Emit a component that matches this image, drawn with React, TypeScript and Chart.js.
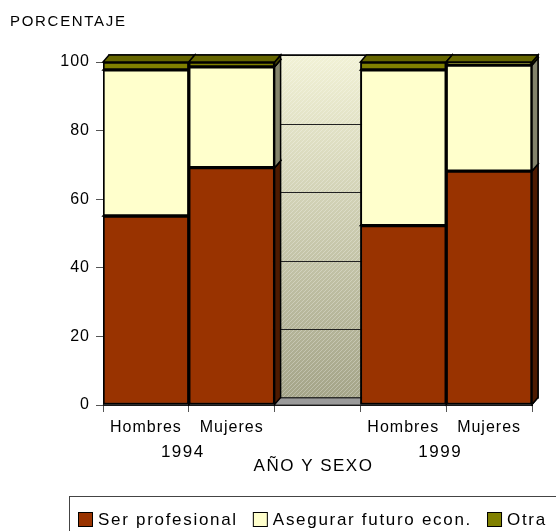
import React, { useEffect, useRef } from 'react';
import { Chart, registerables } from 'chart.js';

Chart.register(...registerables);

// ---- data ----
const categories = ['Hombres', 'Mujeres', '', 'Hombres', 'Mujeres'];
const groupLabels = ['1994', '1999'];
const groupMembers = [[0, 1], [3, 4]];
const serProfesional = [55.1, 69.2, null, 52.3, 68.2];
const asegurarFuturo = [42.6, 29.4, null, 45.4, 30.9];
const otra = [2.3, 1.4, null, 2.3, 0.9];
const seriesNames = ['Ser profesional', 'Asegurar futuro econ.', 'Otra'];
const yTicks = [0, 20, 40, 60, 80, 100];
const yTitle = 'PORCENTAJE';
const xTitle = 'AÑO Y SEXO';

// ---- styles ----
const FONT = '"Liberation Sans", Arial, sans-serif';
const frontColors = ['#993300', '#FFFFCC', '#808000'];
const topColors = ['#6e2500', '#d6d6a8', '#666600'];
const sideColors = ['#4d1a00', '#84846c', '#454500'];
const DX = 6;
const DY = -7;

const depthPlugin = {
  id: 'depth3d',
  beforeLayout(chart: any) {
    chart.ctx.letterSpacing = '1px';
  },
  beforeDraw(chart: any) {
    chart.ctx.letterSpacing = '1px';
  },
  beforeDatasetsDraw(chart: any) {
    const { ctx, chartArea: a, scales } = chart;
    const ys = scales.y;
    ctx.save();
    // back wall
    const wx0 = a.left + DX, wx1 = a.right + DX, wy0 = a.top + DY, wy1 = a.bottom + DY;
    const g = ctx.createLinearGradient(0, wy0, 0, wy1);
    g.addColorStop(0, '#f2f2d6');
    g.addColorStop(1, '#a4a488');
    ctx.fillStyle = g;
    ctx.fillRect(wx0, wy0, wx1 - wx0, wy1 - wy0);
    ctx.save();
    ctx.beginPath();
    ctx.rect(wx0, wy0, wx1 - wx0, wy1 - wy0);
    ctx.clip();
    ctx.strokeStyle = 'rgba(255,255,255,0.28)';
    ctx.lineWidth = 1;
    const h = wy1 - wy0;
    for (let k = -h; k < wx1 - wx0; k += 4) {
      ctx.beginPath();
      ctx.moveTo(wx0 + k, wy1);
      ctx.lineTo(wx0 + k + h, wy0);
      ctx.stroke();
    }
    ctx.restore();
    ctx.strokeStyle = '#222';
    ctx.lineWidth = 1;
    yTicks.forEach((v) => {
      const py = Math.round(ys.getPixelForValue(v) + DY) + 0.5;
      ctx.beginPath();
      ctx.moveTo(wx0, py);
      ctx.lineTo(wx1, py);
      ctx.stroke();
    });
    ctx.strokeStyle = '#000';
    ctx.lineWidth = 1.5;
    ctx.strokeRect(wx0, wy0, wx1 - wx0, wy1 - wy0);
    // floor
    ctx.lineWidth = 1;
    ctx.beginPath();
    ctx.moveTo(a.left, a.bottom);
    ctx.lineTo(a.right, a.bottom);
    ctx.lineTo(a.right + DX, a.bottom + DY);
    ctx.lineTo(a.left + DX, a.bottom + DY);
    ctx.closePath();
    ctx.fillStyle = '#9a9a9a';
    ctx.fill();
    ctx.strokeStyle = '#333';
    ctx.stroke();
    // side and top faces of bars
    const nData = chart.data.datasets.length;
    for (let j = 0; j < categories.length; j++) {
      for (let i = 0; i < nData; i++) {
        const v = chart.data.datasets[i].data[j];
        if (v === null || v === undefined) continue;
        const el = chart.getDatasetMeta(i).data[j];
        const left = el.x - el.width / 2;
        const right = el.x + el.width / 2;
        const top = el.y;
        const bot = el.base;
        ctx.lineWidth = 1.5;
        ctx.strokeStyle = '#000';
        // side
        ctx.beginPath();
        ctx.moveTo(right, bot);
        ctx.lineTo(right + DX, bot + DY);
        ctx.lineTo(right + DX, top + DY);
        ctx.lineTo(right, top);
        ctx.closePath();
        ctx.fillStyle = sideColors[i];
        ctx.fill();
        ctx.stroke();
        // top
        ctx.beginPath();
        ctx.moveTo(left, top);
        ctx.lineTo(left + DX, top + DY);
        ctx.lineTo(right + DX, top + DY);
        ctx.lineTo(right, top);
        ctx.closePath();
        ctx.fillStyle = topColors[i];
        ctx.fill();
        ctx.stroke();
      }
    }
    ctx.restore();
  },
  afterDraw(chart: any) {
    const { ctx, chartArea: a, scales } = chart;
    const xs = scales.x;
    ctx.save();
    ctx.fillStyle = '#000';
    // y title
    ctx.font = `15px ${FONT}`;
    ctx.letterSpacing = '1.7px';
    ctx.textAlign = 'left';
    ctx.textBaseline = 'alphabetic';
    ctx.fillText(yTitle, 10, 26);
    // group labels
    ctx.font = `17px ${FONT}`;
    ctx.letterSpacing = '1.5px';
    ctx.textAlign = 'center';
    groupLabels.forEach((lab, gi) => {
      const m = groupMembers[gi];
      const cx = (xs.getPixelForValue(m[0]) + xs.getPixelForValue(m[m.length - 1])) / 2 - 6;
      ctx.fillText(lab, cx, 457);
    });
    // x title
    ctx.fillText(xTitle, (a.left + a.right) / 2 - 4, 471);
    // legend
    ctx.strokeStyle = '#444';
    ctx.lineWidth = 1;
    ctx.strokeRect(69.5, 496.5, 540, 60);
    ctx.font = `17px ${FONT}`;
    ctx.letterSpacing = '1.7px';
    ctx.textAlign = 'left';
    let x = 78;
    seriesNames.forEach((name, i) => {
      ctx.fillStyle = frontColors[i];
      ctx.fillRect(x, 512, 15, 15);
      ctx.strokeStyle = '#000';
      ctx.strokeRect(x + 0.5, 512.5, 14, 14);
      ctx.fillStyle = '#000';
      ctx.fillText(name, x + 20, 525);
      x += 20 + ctx.measureText(name).width + 15;
    });
    ctx.restore();
  },
};

export default function App() {
  const ref = useRef<HTMLCanvasElement | null>(null);
  useEffect(() => {
    if (!ref.current) return;
    Chart.defaults.font.family = FONT;
    const seriesData = [serProfesional, asegurarFuturo, otra];
    const chart = new Chart(ref.current, {
      type: 'bar',
      data: {
        labels: categories,
        datasets: seriesData.map((d, i) => ({
          label: seriesNames[i],
          data: d,
          backgroundColor: frontColors[i],
          borderColor: '#000',
          borderWidth: 2,
          borderSkipped: false,
          barPercentage: 1,
          categoryPercentage: 1,
        })),
      },
      options: {
        responsive: false,
        animation: false,
        layout: { padding: { top: 62, right: 24, left: 0, bottom: 0 } },
        plugins: { legend: { display: false }, tooltip: { enabled: false }, title: { display: false } },
        scales: {
          x: {
            stacked: true,
            grid: { display: true, drawOnChartArea: false, drawTicks: true, tickLength: 7, color: '#555', offset: true },
            border: { display: true, color: '#000' },
            ticks: { color: '#000', font: { size: 16, family: FONT }, padding: 6, maxRotation: 0, autoSkip: false },
            afterFit: (s: any) => { s.height = 126; },
          },
          y: {
            stacked: true,
            min: 0,
            max: 100,
            grid: { display: true, drawOnChartArea: false, drawTicks: true, tickLength: 7, color: '#555' },
            border: { display: true, color: '#000' },
            ticks: { stepSize: 20, color: '#000', font: { size: 16, family: FONT }, padding: 6 },
            afterFit: (s: any) => { s.width = 103; },
          },
        },
      },
      plugins: [depthPlugin],
    });
    return () => chart.destroy();
  }, []);
  return (
    <div style={{ position: 'fixed', left: 0, top: 0, width: 556, height: 531, background: '#fff', overflow: 'hidden' }}>
      <canvas ref={ref} width={556} height={531} style={{ display: 'block' }} />
    </div>
  );
}
